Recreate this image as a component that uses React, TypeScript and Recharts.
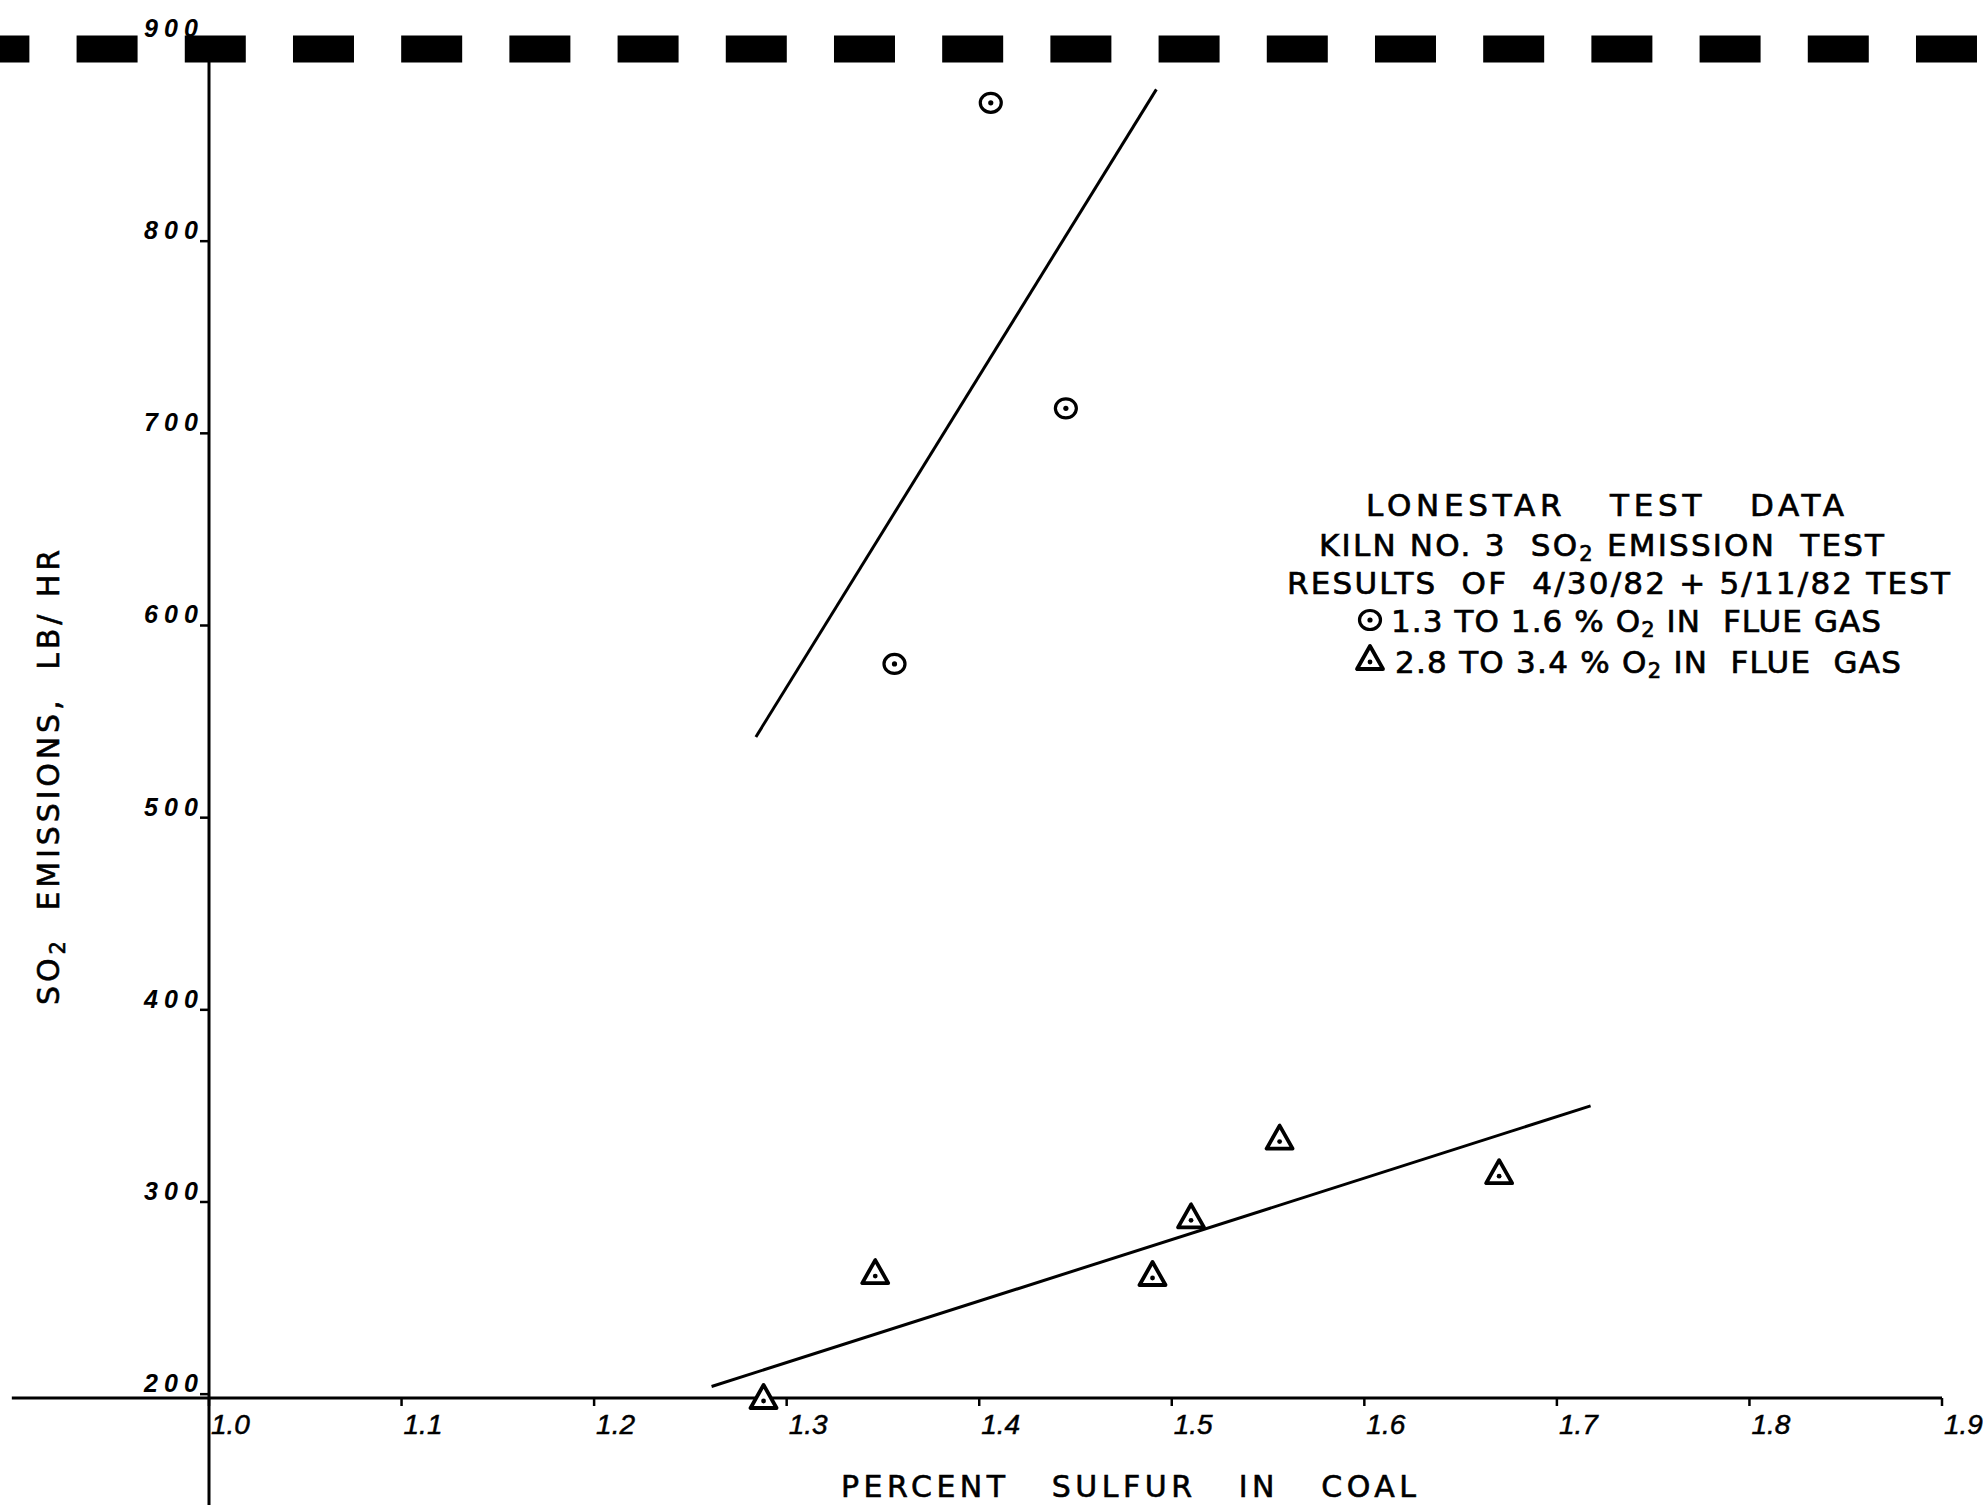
import React from 'react';
import { ScatterChart, Scatter, XAxis, YAxis, ReferenceLine } from 'recharts';

const WIDTH = 1983;
const HEIGHT = 1505;

// x = percent sulfur in coal, y = SO2 emissions (lb/hr)
const X_TICKS = [1.0, 1.1, 1.2, 1.3, 1.4, 1.5, 1.6, 1.7, 1.8, 1.9];
const Y_TICKS = [200, 300, 400, 500, 600, 700, 800, 900];

// 1.3 to 1.6 % O2 in flue gas (circles)
const LOW_O2 = [
  { x: 1.356, y: 580 },
  { x: 1.406, y: 872 },
  { x: 1.445, y: 713 },
];

// 2.8 to 3.4 % O2 in flue gas (triangles)
const HIGH_O2 = [
  { x: 1.288, y: 198 },
  { x: 1.346, y: 263 },
  { x: 1.49, y: 262 },
  { x: 1.51, y: 292 },
  { x: 1.556, y: 333 },
  { x: 1.67, y: 315 },
];

// hand drawn trend lines
const LOW_O2_FIT = [
  { x: 1.284, y: 542 },
  { x: 1.492, y: 879 },
];
const HIGH_O2_FIT = [
  { x: 1.261, y: 204 },
  { x: 1.7175, y: 350 },
];

const X_DOMAIN = [1.0, 1.9];
const Y_DOMAIN = [198, 900];

// on the sheet the axes run past the plot box, and the heavy dashed
// line at 900 runs edge to edge
const X_AXIS_FROM = 0.8976;
const Y_AXIS_TO = 142;
const TOP_LINE_FROM = 0.8914;
const TOP_LINE_TO = 1.922;

const INK = '#000';
const LETTERING = '"DejaVu Sans", "Noto Sans", sans-serif';
const NUMERALS = '"Liberation Sans", Arial, sans-serif';

const Ring = (props: any) => {
  const { cx, cy } = props;
  if (cx == null || cy == null) return <g />;
  return (
    <g>
      <ellipse cx={cx} cy={cy} rx={10.5} ry={9.5} fill="#fff" stroke={INK} strokeWidth={3.2} />
      <circle cx={cx} cy={cy} r={2.6} fill={INK} />
    </g>
  );
};

const Tri = (props: any) => {
  const { cx, cy } = props;
  if (cx == null || cy == null) return <g />;
  const pts = `${cx},${cy - 13} ${cx - 13},${cy + 10} ${cx + 13},${cy + 10}`;
  return (
    <g>
      <polygon points={pts} fill="#fff" stroke={INK} strokeWidth={3.8} strokeLinejoin="round" />
      <circle cx={cx} cy={cy + 3} r={2.4} fill={INK} />
    </g>
  );
};

const NoDot = () => <g />;

const XTick = ({ x, y, payload }: any) => (
  <text
    x={x + 2}
    y={y + 26}
    fontFamily={NUMERALS}
    fontStyle="italic"
    fontSize={28}
    stroke={INK}
    strokeWidth={0.5}
    fill={INK}
  >
    {Number(payload.value).toFixed(1)}
  </text>
);

const YTick = ({ x, y, payload }: any) => {
  const isTop = payload.value === Y_TICKS[Y_TICKS.length - 1];
  return (
    <text
      x={x}
      y={y + (isTop ? -12 : -2)}
      textAnchor="end"
      fontFamily={NUMERALS}
      fontStyle="italic"
      fontWeight={700}
      fontSize={25}
      textLength={54}
      lengthAdjust="spacing"
      fill={INK}
    >
      {payload.value}
    </text>
  );
};

const XTitle = ({ viewBox }: any) => (
  <text
    x={viewBox.x + viewBox.width / 2 + 53}
    y={viewBox.y + 99}
    textAnchor="middle"
    fontFamily={LETTERING}
    fontSize={30}
    textLength={575}
    lengthAdjust="spacing"
    stroke={INK}
    strokeWidth={0.6}
    style={{ whiteSpace: 'pre' }}
    fill={INK}
  >
    {'PERCENT   SULFUR   IN   COAL'}
  </text>
);

const YTitle = ({ viewBox }: any) => {
  const cx = 48;
  const cy = viewBox.y + viewBox.height / 2 + 54;
  return (
    <text
      x={cx}
      y={cy + 11}
      transform={`rotate(-90, ${cx}, ${cy})`}
      textAnchor="middle"
      fontFamily={LETTERING}
      fontSize={30}
      textLength={455}
      lengthAdjust="spacing"
      stroke={INK}
      strokeWidth={0.6}
      style={{ whiteSpace: 'pre' }}
      fill={INK}
    >
      SO
      <tspan dy={6} fontSize={21}>2</tspan>
      <tspan dy={-6}>{'  EMISSIONS,  LB/ HR'}</tspan>
    </text>
  );
};

const NoteBlock = () => {
  const common = {
    fontFamily: LETTERING,
    fontSize: 31,
    fill: INK,
    stroke: INK,
    strokeWidth: 0.7,
    lengthAdjust: 'spacing',
    style: { whiteSpace: 'pre' as const },
  };
  return (
    <svg
      width={WIDTH}
      height={HEIGHT}
      style={{ position: 'absolute', left: 0, top: 0, pointerEvents: 'none' }}
    >
      <text {...common} x={1366} y={516} textLength={478}>
        {'LONESTAR   TEST   DATA'}
      </text>
      <text {...common} x={1319} y={556} textLength={565}>
        {'KILN NO. 3  SO'}
        <tspan dy={5} fontSize={21}>2</tspan>
        <tspan dy={-5}>{' EMISSION  TEST'}</tspan>
      </text>
      <text {...common} x={1287} y={594} textLength={663}>
        {'RESULTS  OF  4/30/82 + 5/11/82 TEST'}
      </text>
      <Ring cx={1370} cy={620} />
      <text {...common} x={1391} y={632} textLength={490}>
        {'1.3 TO 1.6 % O'}
        <tspan dy={5} fontSize={21}>2</tspan>
        <tspan dy={-5}>{' IN  FLUE GAS'}</tspan>
      </text>
      <Tri cx={1370} cy={659} />
      <text {...common} x={1395} y={673} textLength={506}>
        {'2.8 TO 3.4 % O'}
        <tspan dy={5} fontSize={21}>2</tspan>
        <tspan dy={-5}>{' IN  FLUE  GAS'}</tspan>
      </text>
    </svg>
  );
};

export default function App() {
  return (
    <div style={{ position: 'relative', width: WIDTH, height: HEIGHT, background: '#fff' }}>
      <style>{'body{margin:0;background:#fff;}'}</style>
      <ScatterChart
        width={WIDTH}
        height={HEIGHT}
        margin={{ top: 49, right: 41, bottom: 0, left: 0 }}
      >
        <XAxis
          type="number"
          dataKey="x"
          domain={X_DOMAIN}
          ticks={X_TICKS}
          interval={0}
          height={107}
          stroke={INK}
          axisLine={false}
          tickLine={{ stroke: INK, strokeWidth: 2.5 }}
          tickSize={8}
          tick={<XTick />}
          label={<XTitle />}
        />
        <YAxis
          type="number"
          dataKey="y"
          domain={Y_DOMAIN}
          ticks={Y_TICKS}
          interval={0}
          width={209}
          stroke={INK}
          axisLine={false}
          tickLine={{ stroke: INK, strokeWidth: 2.5 }}
          tickSize={9}
          tick={<YTick />}
          label={<YTitle />}
        />
        <ReferenceLine
          segment={[
            { x: X_AXIS_FROM, y: Y_DOMAIN[0] },
            { x: X_DOMAIN[1], y: Y_DOMAIN[0] },
          ]}
          ifOverflow="visible"
          stroke={INK}
          strokeWidth={3.2}
        />
        <ReferenceLine
          segment={[
            { x: X_DOMAIN[0], y: Y_TICKS[Y_TICKS.length - 1] },
            { x: X_DOMAIN[0], y: Y_AXIS_TO },
          ]}
          ifOverflow="visible"
          stroke={INK}
          strokeWidth={3}
        />
        <ReferenceLine
          segment={[
            { x: TOP_LINE_FROM, y: Y_TICKS[Y_TICKS.length - 1] },
            { x: TOP_LINE_TO, y: Y_TICKS[Y_TICKS.length - 1] },
          ]}
          ifOverflow="visible"
          stroke={INK}
          strokeWidth={27}
          strokeDasharray="61 47.2"
          strokeDashoffset={31.5}
        />
        <Scatter
          data={LOW_O2_FIT}
          line={{ stroke: INK, strokeWidth: 3 }}
          shape={NoDot}
          isAnimationActive={false}
        />
        <Scatter
          data={HIGH_O2_FIT}
          line={{ stroke: INK, strokeWidth: 3 }}
          shape={NoDot}
          isAnimationActive={false}
        />
        <Scatter data={LOW_O2} shape={Ring} isAnimationActive={false} />
        <Scatter data={HIGH_O2} shape={Tri} isAnimationActive={false} />
      </ScatterChart>
      <NoteBlock />
    </div>
  );
}
